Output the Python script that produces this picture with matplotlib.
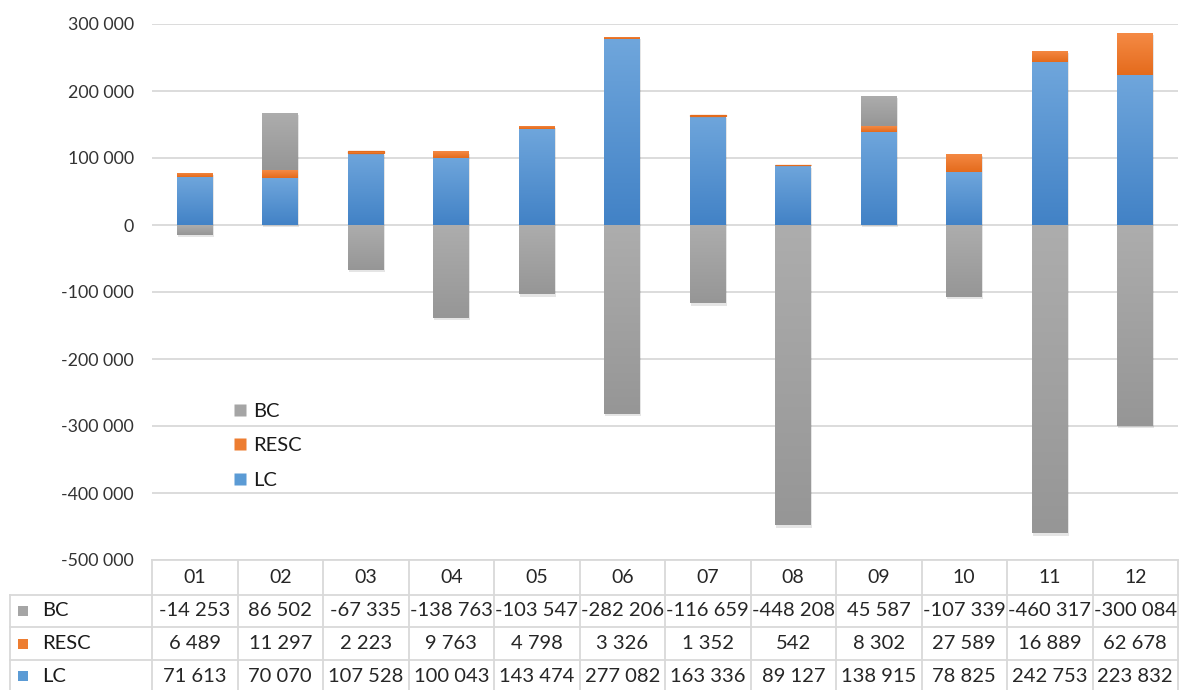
import matplotlib
matplotlib.use("Agg")
import matplotlib.pyplot as plt
import numpy as np
from matplotlib.colors import LinearSegmentedColormap
from matplotlib.lines import Line2D
from matplotlib.patches import Rectangle

plt.rcParams['font.family'] = ['Lato', 'DejaVu Sans']

categories = ["01", "02", "03", "04", "05", "06", "07", "08", "09", "10", "11", "12"]
series_names = ["BC", "RESC", "LC"]
BC = [-14253, 86502, -67335, -138763, -103547, -282206, -116659, -448208, 45587, -107339, -460317, -300084]
RESC = [6489, 11297, 2223, 9763, 4798, 3326, 1352, 542, 8302, 27589, 16889, 62678]
LC = [71613, 70070, 107528, 100043, 143474, 277082, 163336, 89127, 138915, 78825, 242753, 223832]
yticks = [300000, 200000, 100000, 0, -100000, -200000, -300000, -400000, -500000]

colors = {"LC": ("#6FA6DC", "#4282C6"), "RESC": ("#F58A45", "#E46B1C"), "BC": ("#ADADAD", "#969696")}
legend_colors = {"LC": "#5B9BD5", "RESC": "#ED7D31", "BC": "#A5A5A5"}

W, H = 1180, 690
fig = plt.figure(figsize=(W / 100, H / 100), dpi=100)
x0, x1 = 152, 1178
ytop, ybot = 24, 560
ax = fig.add_axes([x0 / W, 1 - ybot / H, (x1 - x0) / W, (ybot - ytop) / H])
ax.set_xlim(-0.5, len(categories) - 0.5)
ax.set_ylim(-500000, 300000)
for s in ax.spines.values():
    s.set_visible(False)
ax.set_yticks(yticks)
ax.set_yticklabels([f"{v:,}".replace(",", " ") for v in yticks], fontsize=12.8, color="#333333")
ax.tick_params(axis='y', length=0, pad=13)
ax.set_xticks([])
ax.grid(axis='y', color="#D9D9D9", linewidth=1.3)
ax.set_axisbelow(True)

x = np.arange(len(categories))
pos_base = np.zeros(len(categories))
neg_base = np.zeros(len(categories))
order = [("LC", LC), ("RESC", RESC), ("BC", BC)]
bw = 0.42
grad = np.linspace(0, 1, 256).reshape(-1, 1)
for name, vals in order:
    vals = np.array(vals, dtype=float)
    bottoms = np.where(vals >= 0, pos_base, neg_base)
    bars = ax.bar(x, vals, bw, bottom=bottoms, color=legend_colors[name], zorder=3, linewidth=0)
    cmap = LinearSegmentedColormap.from_list(name, [colors[name][1], colors[name][0]])
    for b in bars:
        bx, by = b.get_x(), b.get_y()
        bh = b.get_height()
        lo, hi = min(by, by + bh), max(by, by + bh)
        if hi - lo < 3000:
            b.set_edgecolor(colors[name][1])
            b.set_linewidth(0.9)
            b.set_zorder(3.6)
            continue
        sh = Rectangle((bx + 0.012, lo - 3500), b.get_width(), hi - lo, facecolor="#000000",
                       alpha=0.10, zorder=2, linewidth=0)
        ax.add_patch(sh)
        im = ax.imshow(grad, extent=(bx, bx + b.get_width(), lo, hi), origin='lower',
                       cmap=cmap, aspect='auto', zorder=3.5)
        im.set_clip_path(b)
    pos_base = pos_base + np.where(vals >= 0, vals, 0)
    neg_base = neg_base + np.where(vals < 0, vals, 0)
ax.set_xlim(-0.5, len(categories) - 0.5)
ax.set_ylim(-500000, 300000)

# legend
handles = [Line2D([], [], marker='s', linestyle='none', markersize=9,
                  markerfacecolor=legend_colors[n], markeredgecolor='none', label=n) for n in series_names]
leg = fig.legend(handles=handles, loc='upper left', bbox_to_anchor=(210 / W, 1 - 385 / H),
                 frameon=False, fontsize=14.5, labelspacing=0.85, handletextpad=0.05, handlelength=1.2)
for t in leg.get_texts():
    t.set_color("#1a1a1a")

# data table (figure pixel coordinates)
fx = lambda px: px / W
fy = lambda py: 1 - py / H
line_c = "#D9D9D9"
row_y = [560, 595, 627, 660, 692]
colw = (x1 - x0) / len(categories)

def hline(xa, xb, y):
    fig.add_artist(Line2D([fx(xa), fx(xb)], [fy(y), fy(y)], color=line_c, linewidth=1.3))

def vline(xv, ya, yb):
    fig.add_artist(Line2D([fx(xv), fx(xv)], [fy(ya), fy(yb)], color=line_c, linewidth=1.3))

hline(x0, x1, row_y[0])
for yy in row_y[1:]:
    hline(10, x1, yy)
vline(10, row_y[1], row_y[-1])
for i in range(len(categories) + 1):
    vline(x0 + i * colw, row_y[0], row_y[-1])

for i, c in enumerate(categories):
    fig.text(fx(x0 + (i + 0.5) * colw), fy((row_y[0] + row_y[1]) / 2), c, ha='center', va='center',
             fontsize=14, color="#262626")

table_rows = [("BC", BC), ("RESC", RESC), ("LC", LC)]
for r, (name, vals) in enumerate(table_rows):
    yc = (row_y[r + 1] + row_y[r + 2]) / 2
    fig.add_artist(Rectangle((fx(18), fy(yc + 5)), 10 / W, 10 / H, facecolor=legend_colors[name],
                             edgecolor='none', transform=fig.transFigure))
    fig.text(fx(42), fy(yc), name, ha='left', va='center', fontsize=14.5, color="#1a1a1a")
    for i, v in enumerate(vals):
        fig.text(fx(x0 + (i + 0.5) * colw), fy(yc), f"{v:,}".replace(",", " "), ha='center', va='center',
                 fontsize=14.5, color="#262626")

fig.savefig("out.png", dpi=100, facecolor="white")
